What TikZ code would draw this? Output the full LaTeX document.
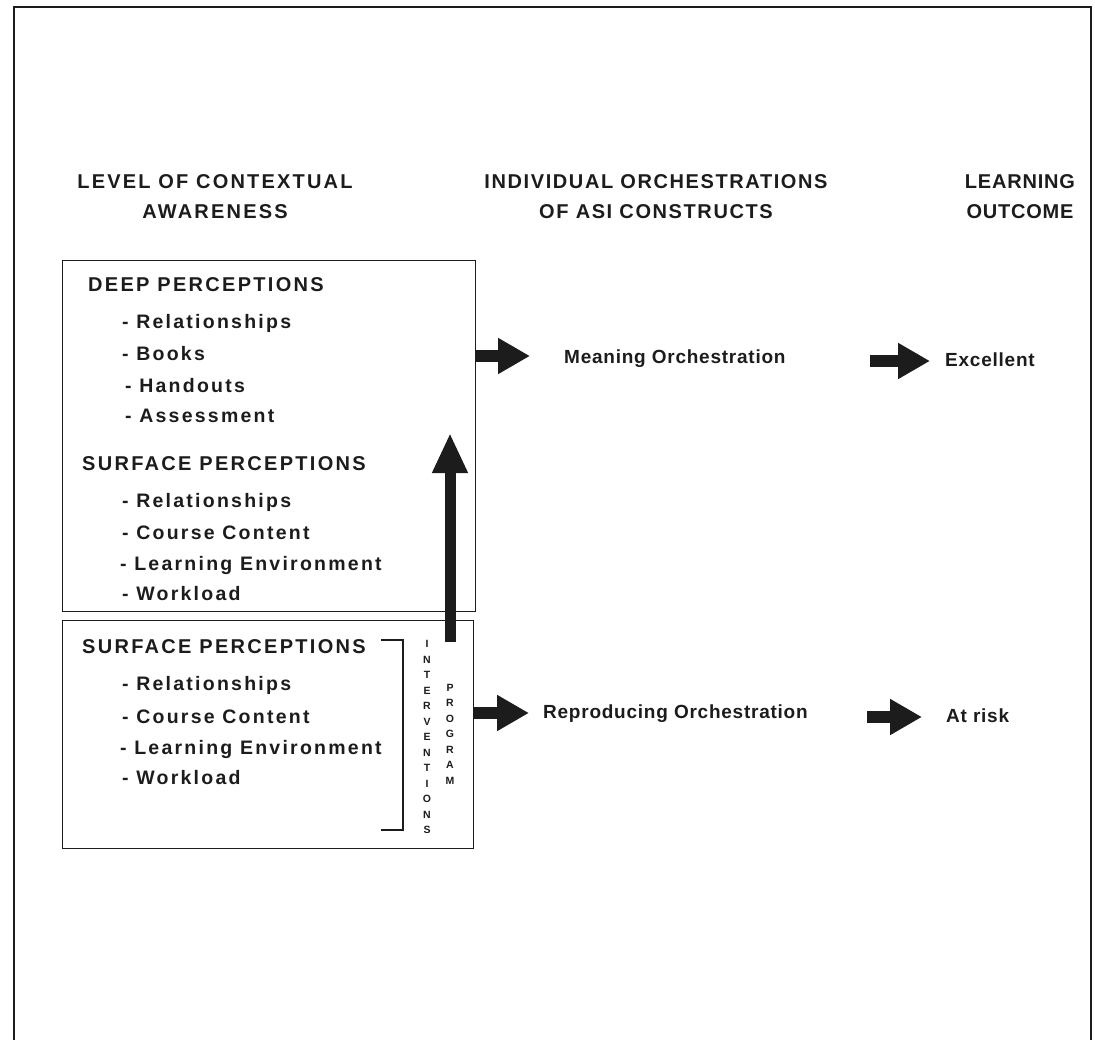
\documentclass[tikz,border=0pt]{standalone}
\usepackage{fontspec}
\setmainfont{Liberation Sans}
\newfontfamily\headfont{Liberation Sans}[LetterSpace=11]
\newfontfamily\midheadfont{Liberation Sans}[LetterSpace=8]
\newfontfamily\outheadfont{Liberation Sans}[LetterSpace=4]
\newfontfamily\boxfont{Liberation Sans}[LetterSpace=11.5]
\newfontfamily\resfont{Liberation Sans}[LetterSpace=4]
\usetikzlibrary{arrows.meta}
\definecolor{ink}{HTML}{1C1C1C}

\begin{document}
\begin{tikzpicture}[x=1pt,y=-1pt,
  every node/.style={inner sep=0pt, text=ink},
  colhead/.style={font=\headfont\fontsize{20}{30}\selectfont\bfseries, align=center},
  grouphead/.style={font=\boxfont\fontsize{20}{20}\selectfont\bfseries, anchor=base west},
  entry/.style={font=\boxfont\fontsize{19.5}{19.5}\selectfont\bfseries, anchor=base west},
  result/.style={font=\resfont\fontsize{19}{19}\selectfont\bfseries, anchor=base west},
  panel/.style={draw=ink, line width=1.4pt, anchor=north west},
  fat/.style={draw=ink, line width=12pt, -{Triangle[length=32pt,width=34pt]}},
  vtext/.style={font=\fontsize{10.5}{15.5}\selectfont\bfseries, align=center},
]
\useasboundingbox (0,0) rectangle (1095,1040);

% outer frame (runs off the lower edge)
\draw[ink, line width=2pt] (14,1060) -- (14,7) -- (1091,7) -- (1091,1060);

% column headings
\node[colhead] (hlevel) at (215,197) {LEVEL OF CONTEXTUAL\\AWARENESS};
\node[colhead, font=\midheadfont\fontsize{20}{30}\selectfont\bfseries] (hindiv) at (656,197)
  {INDIVIDUAL ORCHESTRATIONS\\OF ASI CONSTRUCTS};
\node[colhead, font=\outheadfont\fontsize{20}{30}\selectfont\bfseries] (hout) at (1020,197)
  {LEARNING\\OUTCOME};

% perception panels
\node[panel, minimum width=413pt, minimum height=351pt] (upper) at (62,260) {};
\node[panel, minimum width=411pt, minimum height=228pt] (lower) at (62,620) {};

% upper panel contents
\node[grouphead] (deep) at (88,292) {DEEP PERCEPTIONS};
\node[entry] (d1) at (122,329) {- Relationships};
\node[entry] (d2) at (122,361) {- Books};
\node[entry] (d3) at (125,392) {- Handouts};
\node[entry] (d4) at (125,423) {- Assessment};
\node[grouphead] (surf1) at (82,470) {SURFACE PERCEPTIONS};
\node[entry] (s1) at (122,507) {- Relationships};
\node[entry] (s2) at (122,539) {- Course Content};
\node[entry] (s3) at (120,570) {- Learning Environment};
\node[entry] (s4) at (122,600) {- Workload};

% lower panel contents
\node[grouphead] (surf2) at (82,653) {SURFACE PERCEPTIONS};
\node[entry] (t1) at (122,690) {- Relationships};
\node[entry] (t2) at (122,723) {- Course Content};
\node[entry] (t3) at (120,754) {- Learning Environment};
\node[entry] (t4) at (122,784) {- Workload};

% bracket and vertical labels
\draw[ink, line width=1.6pt] (381,640) -- (403,640) -- (403,830) -- (381,830);
\node[vtext] (interv) at (427,737) {I\\N\\T\\E\\R\\V\\E\\N\\T\\I\\O\\N\\S};
\node[vtext] (prog) at (450,734) {P\\R\\O\\G\\R\\A\\M};

% orchestrations and outcomes
\node[result, anchor=west] (meaning) at (564,359) {Meaning Orchestration};
\node[result, anchor=west] (excel) at (945,360) {Excellent};
\node[result, anchor=west] (repro) at (543,714) {Reproducing Orchestration};
\node[result, anchor=west] (risk) at (946,716) {At risk};

% arrows
\draw[fat] (upper.east |- 0,356) -- ([xshift=-34pt]meaning.west |- 0,356);
\draw[fat] ([xshift=84pt]meaning.east |- 0,361) -- ([xshift=-15pt]excel.west |- 0,361);
\draw[fat] (lower.east |- 0,713) -- ([xshift=-14pt]repro.west |- 0,713);
\draw[fat] ([xshift=59pt]repro.east |- 0,717) -- ([xshift=-24pt]risk.west |- 0,717);

\coordinate (ivfoot) at (450,642);
\coordinate (ivtip) at (450,433);
\draw[draw=ink, line width=11pt, -{Triangle[length=40pt,width=33pt]}] (ivfoot) -- (ivtip);
\end{tikzpicture}
\end{document}
